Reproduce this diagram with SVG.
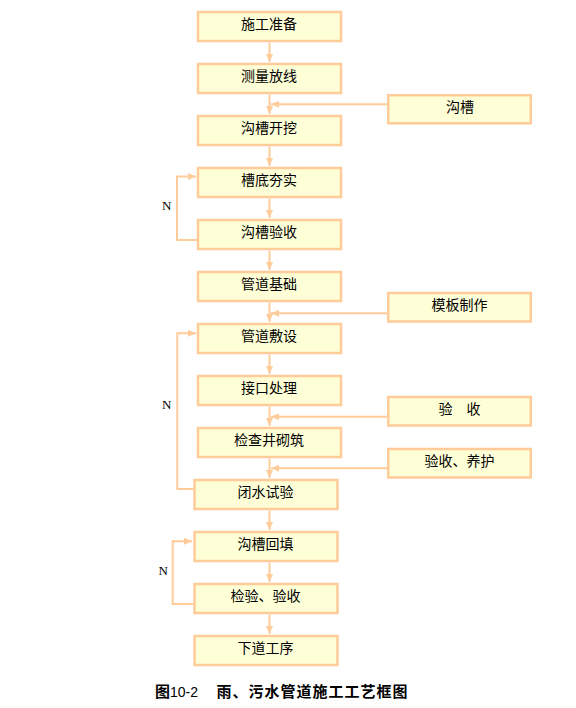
<svg xmlns="http://www.w3.org/2000/svg" width="576" height="708" viewBox="0 0 576 708">
<style>
.box{fill:#FFFFD7;stroke:#FFCC99;stroke-width:2.5}
.t{font-family:"Noto Sans CJK SC",sans-serif;font-size:14px;fill:#000;text-anchor:middle}
.n{font-family:"Liberation Serif",serif;font-size:13px;fill:#000}
.ln{fill:none;stroke:#FFCC99;stroke-width:2}
.ttl{font-family:"Noto Sans CJK SC",sans-serif;font-size:15px;fill:#000}
</style>
<defs>
<marker id="ah" viewBox="0 0 8 8" refX="8" refY="4" markerWidth="8" markerHeight="8" markerUnits="userSpaceOnUse" orient="auto">
<path d="M0,0.5 L8,4 L0,7.5 Z" fill="#FFCC99"/>
</marker>
</defs>
<rect width="576" height="708" fill="#fff"/>
<g id="connectors">
<line class="ln" x1="269.5" y1="42.5" x2="269.5" y2="62" marker-end="url(#ah)"/>
<line class="ln" x1="269.5" y1="94.5" x2="269.5" y2="114" marker-end="url(#ah)"/>
<line class="ln" x1="387" y1="104.3" x2="271" y2="104.3" marker-end="url(#ah)"/>
<line class="ln" x1="269.5" y1="146.5" x2="269.5" y2="166" marker-end="url(#ah)"/>
<line class="ln" x1="269.5" y1="198.5" x2="269.5" y2="218" marker-end="url(#ah)"/>
<line class="ln" x1="269.5" y1="250.5" x2="269.5" y2="270" marker-end="url(#ah)"/>
<line class="ln" x1="269.5" y1="302.5" x2="269.5" y2="322" marker-end="url(#ah)"/>
<line class="ln" x1="387" y1="313.3" x2="271" y2="313.3" marker-end="url(#ah)"/>
<line class="ln" x1="269.5" y1="354.5" x2="269.5" y2="374" marker-end="url(#ah)"/>
<line class="ln" x1="269.5" y1="406.5" x2="269.5" y2="426" marker-end="url(#ah)"/>
<line class="ln" x1="387" y1="416.7" x2="271" y2="416.7" marker-end="url(#ah)"/>
<line class="ln" x1="269.5" y1="458.5" x2="269.5" y2="478" marker-end="url(#ah)"/>
<line class="ln" x1="387" y1="468.3" x2="271" y2="468.3" marker-end="url(#ah)"/>
<line class="ln" x1="269.5" y1="510.5" x2="269.5" y2="530" marker-end="url(#ah)"/>
<line class="ln" x1="269.5" y1="562.5" x2="269.5" y2="582" marker-end="url(#ah)"/>
<line class="ln" x1="269.5" y1="614.5" x2="269.5" y2="634" marker-end="url(#ah)"/>
<polyline class="ln" points="197,240 177,240 177,176.5 196,176.5" marker-end="url(#ah)"/>
<polyline class="ln" points="193,489 177.3,489 177.3,333.3 196,333.3" marker-end="url(#ah)"/>
<polyline class="ln" points="193,604 172.7,604 172.7,541.3 192,541.3" marker-end="url(#ah)"/>
</g>
<g id="n1"><rect class="box" x="198" y="12" width="143" height="29"/><text class="t" x="269" y="29">施工准备</text></g>
<g id="n2"><rect class="box" x="198" y="64" width="143" height="29"/><text class="t" x="269" y="81">测量放线</text></g>
<g id="n3"><rect class="box" x="198" y="116" width="143" height="29"/><text class="t" x="269" y="133">沟槽开挖</text></g>
<g id="n4"><rect class="box" x="198" y="168" width="143" height="29"/><text class="t" x="269" y="185">槽底夯实</text></g>
<g id="n5"><rect class="box" x="198" y="220" width="143" height="29"/><text class="t" x="269" y="237">沟槽验收</text></g>
<g id="n6"><rect class="box" x="198" y="272" width="143" height="29"/><text class="t" x="269" y="289">管道基础</text></g>
<g id="n7"><rect class="box" x="198" y="324" width="143" height="29"/><text class="t" x="269" y="341">管道敷设</text></g>
<g id="n8"><rect class="box" x="198" y="376" width="143" height="29"/><text class="t" x="269" y="393">接口处理</text></g>
<g id="n9"><rect class="box" x="198" y="428" width="143" height="29"/><text class="t" x="269" y="445">检查井砌筑</text></g>
<g id="n10"><rect class="box" x="194.5" y="480" width="143" height="29"/><text class="t" x="265.5" y="497">闭水试验</text></g>
<g id="n11"><rect class="box" x="194.5" y="532" width="143" height="29"/><text class="t" x="265.5" y="549">沟槽回填</text></g>
<g id="n12"><rect class="box" x="194.5" y="584" width="143" height="29"/><text class="t" x="265.5" y="601">检验、验收</text></g>
<g id="n13"><rect class="box" x="194.5" y="636" width="143" height="29"/><text class="t" x="265.5" y="653">下道工序</text></g>
<g id="s1"><rect class="box" x="388.25" y="95.25" width="142.5" height="28"/><text class="t" x="460" y="112">沟槽</text></g>
<g id="s2"><rect class="box" x="388.25" y="293" width="142.5" height="28.5"/><text class="t" x="459.5" y="310">模板制作</text></g>
<g id="s3"><rect class="box" x="388.25" y="397" width="142.5" height="28.5"/><text class="t" x="459.5" y="414">验　收</text></g>
<g id="s4"><rect class="box" x="388.25" y="449" width="142.5" height="28.5"/><text class="t" x="459.5" y="466">验收、养护</text></g>
<g id="labels">
<text class="n" x="162" y="210">N</text>
<text class="n" x="162" y="409">N</text>
<text class="n" x="158.5" y="575">N</text>
</g>
<g id="title">
<text class="ttl" x="155" y="697"><tspan font-weight="bold">图</tspan><tspan font-family="Liberation Sans, sans-serif" font-size="14px">10-2</tspan><tspan x="216.5" font-weight="bold" letter-spacing="1">雨、污水管道施工工艺框图</tspan></text>
</g>
</svg>
